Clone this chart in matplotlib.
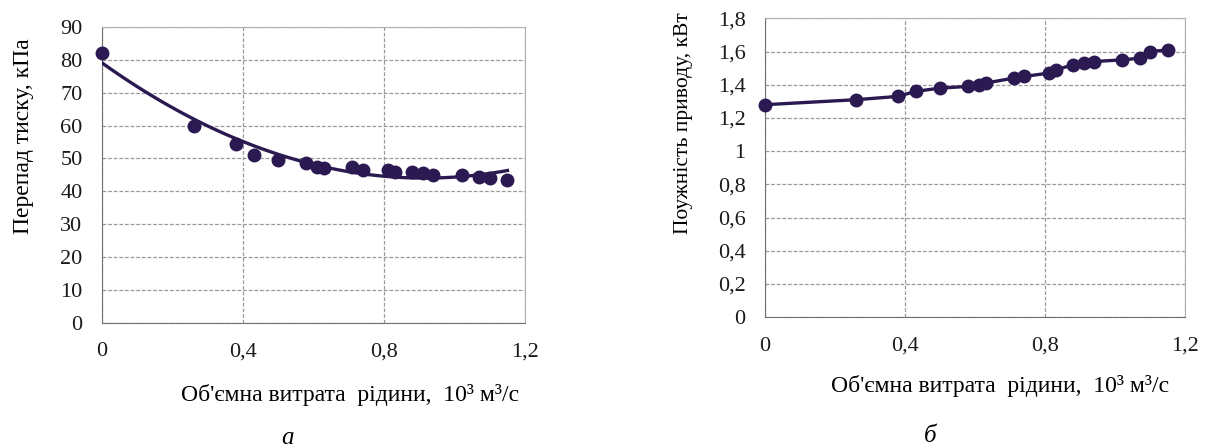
import numpy as np
import matplotlib.pyplot as plt

plt.rcParams['font.family'] = ['Liberation Serif', 'DejaVu Serif']

# flow rate, 10^3 m3/s (same points on both panels)
flow = [0, 0.26, 0.38, 0.43, 0.50, 0.58, 0.61, 0.63, 0.71, 0.74,
        0.81, 0.83, 0.88, 0.91, 0.94, 1.02, 1.07, 1.10, 1.15]
# pressure drop, kPa
pressure = [82, 60, 54.5, 51, 49.5, 48.5, 47.5, 47, 47.5, 46.5,
            46.5, 46, 46, 45.5, 45, 45, 44.5, 44, 43.5]
# drive power, kW
power = [1.28, 1.31, 1.33, 1.36, 1.38, 1.39, 1.40, 1.41, 1.44, 1.45,
         1.47, 1.49, 1.52, 1.53, 1.54, 1.55, 1.56, 1.60, 1.61]

x_ticks = [0, 0.4, 0.8, 1.2]
x_ticklabels = ['0', '0,4', '0,8', '1,2']
p_ticks = list(range(0, 91, 10))
w_ticks = [0, 0.2, 0.4, 0.6, 0.8, 1.0, 1.2, 1.4, 1.6, 1.8]
w_ticklabels = ['0', '0,2', '0,4', '0,6', '0,8', '1', '1,2', '1,4', '1,6', '1,8']

col = '#2b1a52'
xlab = "Об'ємна витрата  рідини,  10³ м³/с"

fig = plt.figure(figsize=(12.07, 4.48), dpi=100)
ax1 = fig.add_axes([0.0845, 0.279, 0.3505, 0.661])
ax2 = fig.add_axes([0.6338, 0.292, 0.348, 0.667])

def style(ax):
    ax.grid(True, color='#9a9a9a', linestyle=(0, (3, 1.5)), linewidth=0.9)
    for s in ax.spines.values():
        s.set_color('#b0b0b0')
    ax.spines['left'].set_color('#707070')
    ax.spines['bottom'].set_color('#707070')
    ax.tick_params(length=0, labelsize=16, colors='#1a1a1a')
    ax.tick_params(axis='x', pad=14)
    ax.tick_params(axis='y', pad=14)
    ax.set_xlim(0, 1.2)
    ax.set_xticks(x_ticks)
    ax.set_xticklabels(x_ticklabels)

# panel a: pressure drop with quadratic trend
style(ax1)
coef = np.polyfit(flow, pressure, 2)
xs = np.linspace(0, 1.15, 100)
ax1.plot(xs, np.polyval(coef, xs), color=col, lw=2.4, zorder=3)
ax1.plot(flow, pressure, 'o', color=col, ms=9, zorder=4, clip_on=False)
ax1.set_ylim(0, 90)
ax1.set_yticks(p_ticks)
ax1.set_ylabel('Перепад тиску, кПа', fontsize=17)
ax1.yaxis.set_label_coords(-68 / 423, 0.63)

# panel b: drive power
style(ax2)
ax2.plot(flow, power, '-o', color=col, lw=2.4, ms=9, zorder=4, clip_on=False)
ax2.set_ylim(0, 1.8)
ax2.set_yticks(w_ticks)
ax2.set_yticklabels(w_ticklabels)
ax2.set_ylabel('Поужність приводу, кВт', fontsize=15.5)
ax2.yaxis.set_label_coords(-72 / 420, 0.65)

fig.text(350 / 1207, 1 - 395 / 448, xlab, ha='center', va='center', fontsize=17)
fig.text(1000 / 1207, 1 - 386 / 448, xlab, ha='center', va='center', fontsize=17)
fig.text(288 / 1207, 1 - 438 / 448, 'а', ha='center', va='center', fontsize=18, style='italic')
fig.text(930 / 1207, 1 - 436 / 448, 'б', ha='center', va='center', fontsize=18, style='italic')

fig.savefig('out.png', dpi=100)
